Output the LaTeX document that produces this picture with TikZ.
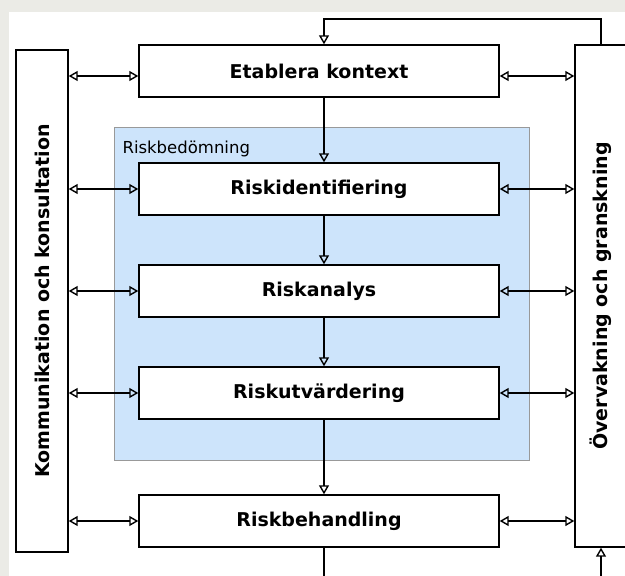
\documentclass[tikz,border=0pt]{standalone}
\usepackage{fontspec}
\setmainfont{DejaVu Sans}
\usetikzlibrary{arrows.meta,positioning}
\definecolor{pagegray}{RGB}{235,235,230}
\definecolor{riskblue}{RGB}{205,228,251}
\tikzset{
  stepbox/.style={draw, fill=white, line width=1.4pt, inner sep=0pt,
    minimum width=360pt, minimum height=52pt,
    font=\fontsize{19}{22}\selectfont\bfseries},
  sidebox/.style={stepbox, minimum width=502pt, rotate=90},
  riskarea/.style={draw=gray!80, fill=riskblue, line width=0.8pt,
    minimum width=415pt, minimum height=333pt},
  link/.style={line width=1.4pt, -{Triangle[open, length=9pt, width=10pt]}},
  twoway/.style={line width=1.4pt, {Triangle[open, length=9pt, width=10pt]}-{Triangle[open, length=9pt, width=10pt]}}
}
\begin{document}
\begin{tikzpicture}[x=1pt, y=-1pt, node distance=50pt]
\fill[pagegray] (0,0) rectangle (625,576);
\fill[white] (9,12) rectangle (625,576);
\useasboundingbox (0,0) rectangle (625,576);

% Riskbedömning
\node[riskarea] (bedom) at (321.5,293.5) {};
\node[anchor=base west, font=\fontsize{16.5}{19}\selectfont] (bedomlabel) at (119,153) {Riskbedömning};

% process steps
\node[stepbox] (etab) at (319,71) {Etablera kontext};
\node[stepbox, below=64.6pt of etab] (riskid) {Riskidentifiering};
\node[stepbox, below=48.6pt of riskid] (riskan) {Riskanalys};
\node[stepbox, below=48.6pt of riskan] (riskutv) {Riskutvärdering};
\node[stepbox, below=74.6pt of riskutv] (riskb) {Riskbehandling};

% side columns
\node[sidebox] (kom) at (42,301) {Kommunikation och konsultation};
\node[sidebox] (ovk) at (601,296) {Övervakning och granskning};

% main flow
\draw[link] ([xshift=5pt]etab.south) -- ([xshift=5pt]riskid.north);
\draw[link] ([xshift=5pt]riskid.south) -- ([xshift=5pt]riskan.north);
\draw[link] ([xshift=5pt]riskan.south) -- ([xshift=5pt]riskutv.north);
\draw[link] ([xshift=5pt]riskutv.south) -- ([xshift=5pt]riskb.north);

% feedback loop
\coordinate (looptop) at (0,19);
\coordinate (loopbot) at (0,576);
\draw[link] (ovk.east) -- (ovk.east |- looptop) -| ([xshift=5pt]etab.north);
\draw[line width=1.4pt] ([xshift=5pt]riskb.south) -- ([xshift=5pt]riskb.south |- loopbot);
\draw[link] (ovk.west |- loopbot) -- (ovk.west);

% links to the side columns
\draw[twoway] ([yshift=-5pt]etab.west -| kom.south) -- ([yshift=-5pt]etab.west);
\draw[twoway] ([yshift=-5pt]etab.east) -- ([yshift=-5pt]etab.east -| ovk.north);
\foreach \s in {riskid,riskan,riskutv,riskb} {
  \draw[twoway] (\s.west -| kom.south) -- (\s.west);
  \draw[twoway] (\s.east) -- (\s.east -| ovk.north);
}
\end{tikzpicture}
\end{document}
